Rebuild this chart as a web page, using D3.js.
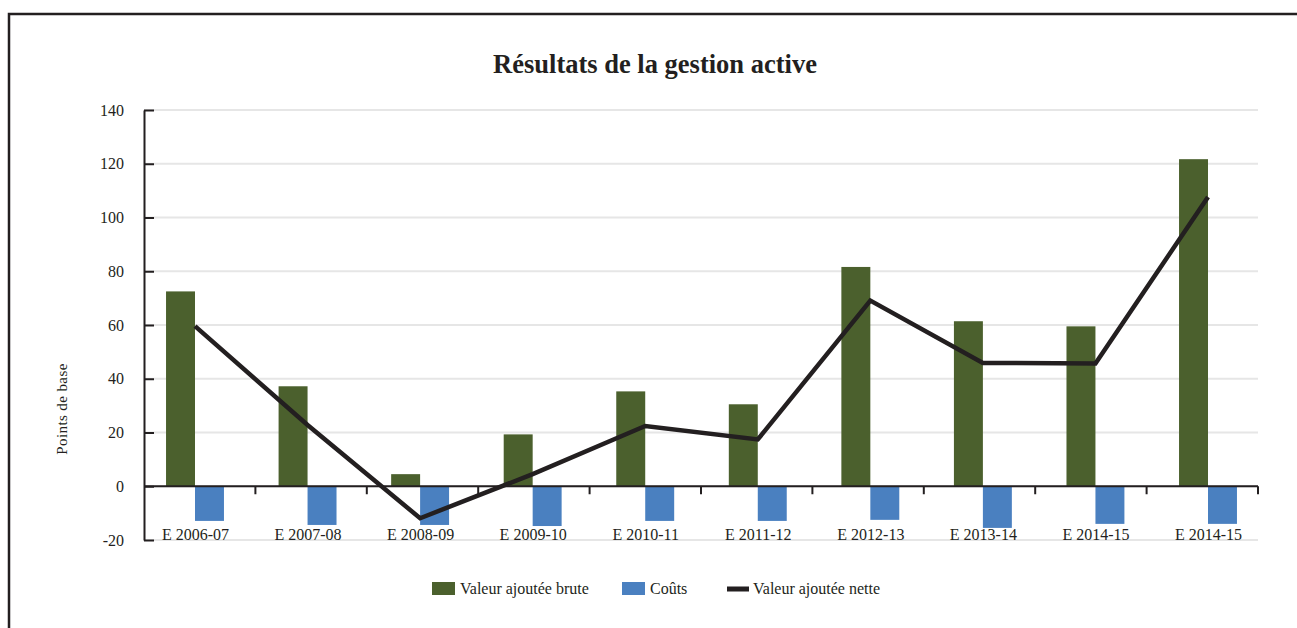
<!DOCTYPE html>
<html lang="fr">
<head>
    <meta charset="UTF-8">
    <script src="https://cdn.jsdelivr.net/npm/d3@7"></script>
    <style>
        body { margin: 0; background: #fff; }
        svg { display: block; font-family: "Liberation Serif", "Times New Roman", serif; }
        .axis path, .axis line { stroke: #231f20; stroke-width: 2; }
        .axis text { font-family: "Liberation Serif", "Times New Roman", serif; font-size: 16px; fill: #231f20; }
    </style>
</head>
<body>
<svg width="1297" height="628"></svg>
<script>
    // données (points de base)
    var categories = ["E 2006-07", "E 2007-08", "E 2008-09", "E 2009-10", "E 2010-11",
                      "E 2011-12", "E 2012-13", "E 2013-14", "E 2014-15", "E 2014-15"];
    var brute = [72.5, 37.2, 4.5, 19.3, 35.3, 30.5, 81.6, 61.4, 59.5, 121.7];
    var couts = [-12.9, -14.4, -14.4, -14.8, -12.9, -12.9, -12.5, -15.5, -14.0, -14.0];
    var nette = [59.6, 22.8, -11.9, 4.5, 22.4, 17.4, 69.1, 45.9, 45.7, 107.6];
    var yTicks = [-20, 0, 20, 40, 60, 80, 100, 120, 140];
    var seriesNames = ["Valeur ajoutée brute", "Coûts", "Valeur ajoutée nette"];
    var colors = {brute: "#4b602d", couts: "#4a80c0", nette: "#231f20"};

    var svg = d3.select("svg");
    var plot = {left: 144, right: 1258, top: 110, bottom: 540};

    // cadre
    svg.append("rect")
        .attr("x", 9).attr("y", 14)
        .attr("width", 1400).attr("height", 800)
        .attr("fill", "none")
        .attr("stroke", "#231f20")
        .attr("stroke-width", 2.5);

    svg.append("text")
        .attr("x", 655).attr("y", 73)
        .attr("text-anchor", "middle")
        .style("font-size", "26.5px")
        .style("font-weight", "bold")
        .style("fill", "#231f20")
        .text("Résultats de la gestion active");

    // bandes pour les séparateurs, points pour les marques (un peu plus écartés, comme l'original)
    var x = d3.scaleBand()
        .domain(d3.range(categories.length))
        .range([plot.left, plot.right]);
    var xc = d3.scalePoint()
        .domain(d3.range(categories.length))
        .range([plot.left + 51, plot.right - 50]);
    var y = d3.scaleLinear()
        .domain([-20, 140])
        .range([plot.bottom, plot.top]);

    var barW = x.bandwidth() * 0.26;

    // grille
    svg.append("g")
        .selectAll("line")
        .data(yTicks)
        .enter()
        .append("line")
        .attr("x1", plot.left).attr("x2", plot.right)
        .attr("y1", function (d) { return y(d); })
        .attr("y2", function (d) { return y(d); })
        .attr("stroke", "#e6e6e6")
        .attr("stroke-width", 2);

    // barres
    svg.append("g")
        .selectAll("rect")
        .data(brute)
        .enter()
        .append("rect")
        .attr("x", function (d, i) { return xc(i) - barW; })
        .attr("y", function (d) { return y(Math.max(0, d)); })
        .attr("width", barW)
        .attr("height", function (d) { return Math.abs(y(d) - y(0)); })
        .attr("fill", colors.brute);

    svg.append("g")
        .selectAll("rect")
        .data(couts)
        .enter()
        .append("rect")
        .attr("x", function (d, i) { return xc(i); })
        .attr("y", function (d) { return y(Math.max(0, d)); })
        .attr("width", barW)
        .attr("height", function (d) { return Math.abs(y(d) - y(0)); })
        .attr("fill", colors.couts);

    // axe y
    svg.append("g")
        .attr("class", "axis")
        .attr("transform", "translate(" + plot.left + ",0)")
        .call(d3.axisLeft(y).tickValues(yTicks).tickSize(-10).tickSizeOuter(0).tickPadding(20)
            .tickFormat(function (d) { return String(d); }));

    // axe x
    var xAxis = svg.append("g")
        .attr("class", "axis")
        .attr("transform", "translate(0," + y(0) + ")")
        .call(d3.axisBottom(xc).tickSize(0).tickPadding(42)
            .tickFormat(function (i) { return categories[i]; }));
    xAxis.select(".domain").attr("d", "M" + plot.left + ",0H" + plot.right);
    xAxis.selectAll(".sep")
        .data(d3.range(1, categories.length + 1))
        .enter()
        .append("line")
        .attr("class", "sep")
        .attr("x1", function (i) { return plot.left + i * x.step(); })
        .attr("x2", function (i) { return plot.left + i * x.step(); })
        .attr("y1", 0).attr("y2", 8);

    // ligne nette
    var line = d3.line()
        .x(function (d, i) { return xc(i); })
        .y(function (d) { return y(d); });
    svg.append("path")
        .datum(nette)
        .attr("d", line)
        .attr("fill", "none")
        .attr("stroke", colors.nette)
        .attr("stroke-width", 4.5);

    // titre axe y
    svg.append("text")
        .attr("transform", "translate(67,409) rotate(-90)")
        .attr("text-anchor", "middle")
        .style("font-size", "15px")
        .style("letter-spacing", "0.4px")
        .style("fill", "#231f20")
        .text("Points de base");

    // légende
    var legend = svg.append("g").attr("transform", "translate(0,589)");
    var legX = [432, 622, 727];
    legend.selectAll("g")
        .data(seriesNames)
        .enter()
        .append("g")
        .attr("transform", function (d, i) { return "translate(" + legX[i] + ",0)"; })
        .each(function (d, i) {
            var g = d3.select(this);
            if (i < 2) {
                g.append("rect")
                    .attr("x", 0).attr("y", -7)
                    .attr("width", 23).attr("height", 13)
                    .attr("fill", i === 0 ? colors.brute : colors.couts);
            } else {
                g.append("rect")
                    .attr("x", 0).attr("y", -2.5)
                    .attr("width", 22).attr("height", 5)
                    .attr("fill", colors.nette);
            }
            g.append("text")
                .attr("x", i < 2 ? 28 : 26)
                .attr("y", 5)
                .style("font-size", "16px")
                .style("fill", "#231f20")
                .text(d);
        });
</script>
</body>
</html>
